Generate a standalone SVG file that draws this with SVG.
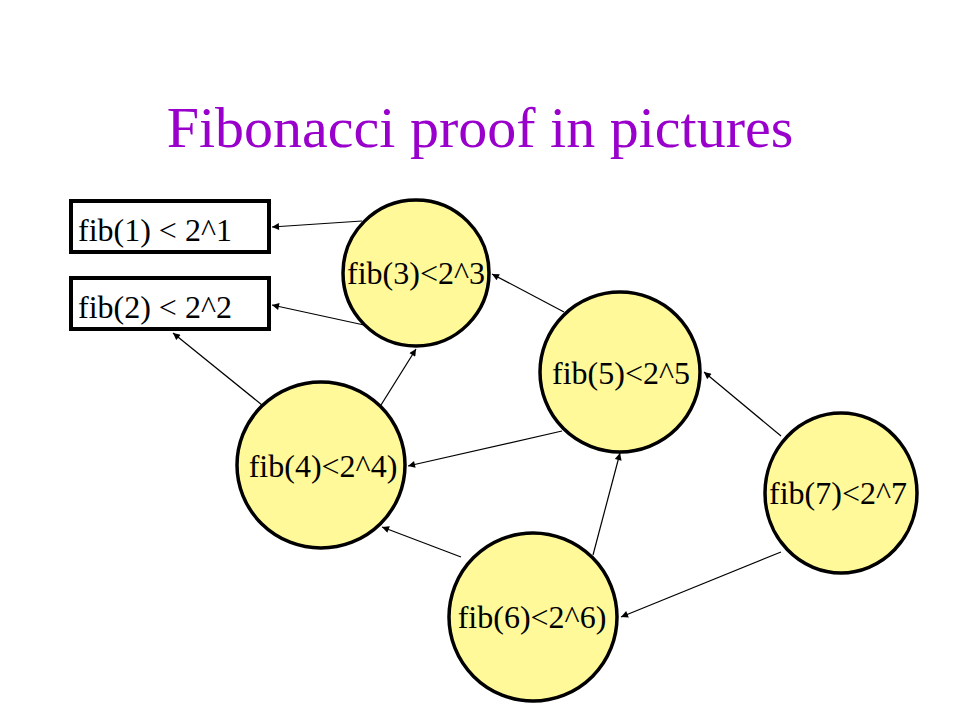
<svg xmlns="http://www.w3.org/2000/svg" width="960" height="720" viewBox="0 0 960 720">
<defs>
<marker id="ah" viewBox="0 0 10 10" refX="10" refY="5" markerWidth="9" markerHeight="7" markerUnits="userSpaceOnUse" orient="auto">
<path d="M0,0 L10,5 L0,10 z" fill="#000"/>
</marker>
<style>
.t{font-family:"Liberation Serif","DejaVu Serif",serif;fill:#000;font-size:32px}
.n{fill:#FFF999;stroke:#000;stroke-width:3.5}
.b{fill:#fff;stroke:#000;stroke-width:4}
.c line{stroke:#000;stroke-width:1.2;marker-end:url(#ah)}
</style>
</defs>
<rect width="960" height="720" fill="#fff"/>
<text x="480" y="147" text-anchor="middle" font-family="Liberation Serif, DejaVu Serif, serif" font-size="58" fill="#9900CC">Fibonacci proof in pictures</text>
<g class="c" id="connectors">
<line x1="362" y1="221" x2="272" y2="227"/>
<line x1="364" y1="325" x2="272" y2="305"/>
<line x1="262" y1="405" x2="173" y2="333"/>
<line x1="381" y1="405" x2="416" y2="349"/>
<line x1="564" y1="312" x2="492" y2="274"/>
<line x1="562" y1="431" x2="408" y2="466"/>
<line x1="461" y1="557" x2="382" y2="527"/>
<line x1="593" y1="555" x2="620" y2="453"/>
<line x1="781" y1="436" x2="704" y2="372"/>
<line x1="781" y1="552" x2="621" y2="617"/>
</g>
<g id="box1"><rect class="b" x="71" y="201" width="198" height="51"/><text class="t" x="78" y="241">fib(1) &lt; 2^1</text></g>
<g id="box2"><rect class="b" x="71" y="278" width="198" height="51"/><text class="t" x="78" y="318">fib(2) &lt; 2^2</text></g>
<g id="n3"><ellipse class="n" cx="416" cy="273" rx="73" ry="73"/><text class="t" x="416" y="284" text-anchor="middle">fib(3)&lt;2^3</text></g>
<g id="n5"><ellipse class="n" cx="620" cy="372" rx="80" ry="80"/><text class="t" x="621" y="384" text-anchor="middle">fib(5)&lt;2^5</text></g>
<g id="n4"><ellipse class="n" cx="321" cy="465" rx="84" ry="83"/><text class="t" x="323" y="477" text-anchor="middle">fib(4)&lt;2^4)</text></g>
<g id="n6"><ellipse class="n" cx="533" cy="617" rx="84" ry="84"/><text class="t" x="532" y="628" text-anchor="middle">fib(6)&lt;2^6)</text></g>
<g id="n7"><ellipse class="n" cx="841" cy="493" rx="76" ry="80"/><text class="t" x="838" y="504" text-anchor="middle">fib(7)&lt;2^7</text></g>
</svg>
